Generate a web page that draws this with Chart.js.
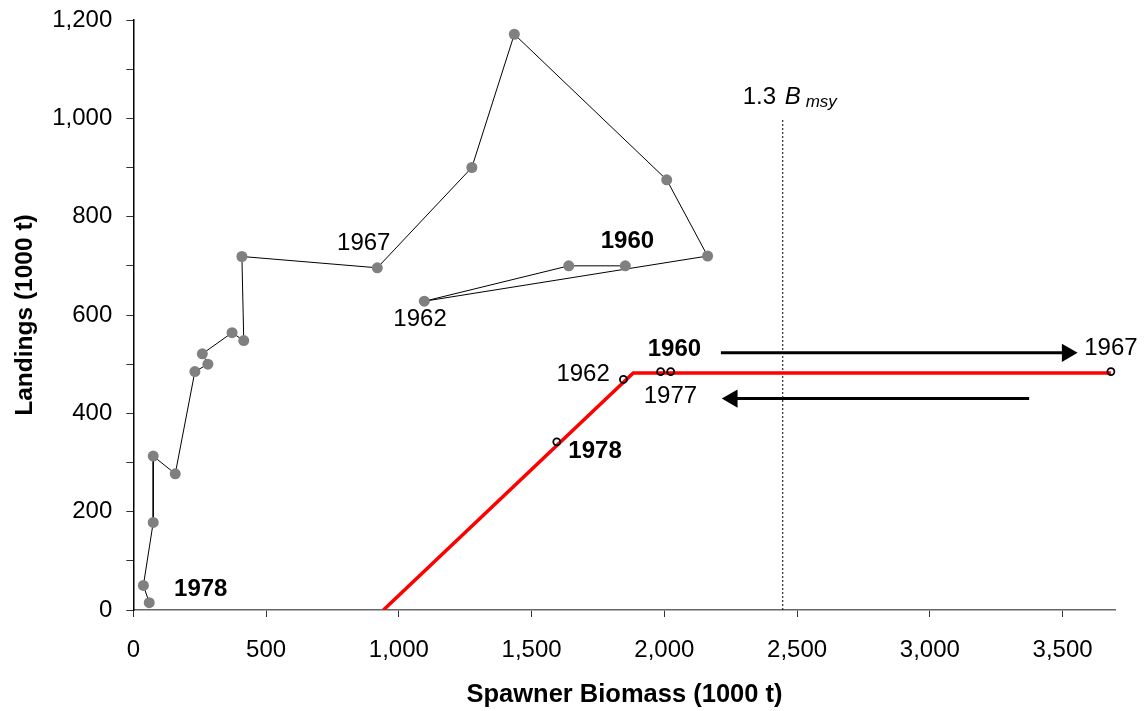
<!DOCTYPE html>
<html>
<head>
<meta charset="utf-8">
<script src="https://cdn.jsdelivr.net/npm/chart.js@4.4.1/dist/chart.umd.min.js"></script>
<style>
  html, body { margin: 0; padding: 0; background: #ffffff; }
  #wrap { width: 1147px; height: 711px; }
</style>
</head>
<body>
<div id="wrap"><canvas id="c" width="1147" height="711"></canvas></div>
<script>
// ---- Data ----
const years = [1960, 1961, 1962, 1963, 1964, 1965, 1966, 1967, 1968, 1969, 1970, 1971, 1972, 1973, 1974, 1975, 1976, 1977, 1978];
const spawnerBiomass = [1853, 1640, 1096, 2163, 2009, 1435, 1275, 919, 409, 416, 372, 260, 281, 232, 158, 75, 75, 38, 60];
const landings = [700, 700, 628, 720, 875, 1171, 900, 696, 719, 548, 564, 521, 500, 485, 277, 313, 178, 50, 15];

const hcrBiomass = [942, 1883, 3682];
const hcrLandings = [0, 482, 482];

const hcrPointYears = [1960, 1962, 1967, 1977, 1978];
const hcrPointBiomass = [1986, 1846, 3682, 2024, 1595];
const hcrPointLandings = [485, 469, 485, 485, 342];

const bmsyRef = 2446;          // 1.3 Bmsy spawner biomass
const bmsyLineTop = 1000;

const arrowOutBiomass = [2213, 3517];
const arrowOutLandings = [523, 523];
const arrowBackBiomass = [3374, 2256];
const arrowBackLandings = [430, 430];

const xTickValues = [0, 500, 1000, 1500, 2000, 2500, 3000, 3500];
const yTickValues = [0, 100, 200, 300, 400, 500, 600, 700, 800, 900, 1000, 1100, 1200];
const yLabelled = [0, 200, 400, 600, 800, 1000, 1200];

const labelTexts = ['1978', '1967', '1962', '1960', '1960', '1962', '1977', '1978', '1967'];
const labelBold  = [true, false, false, true, true, false, false, true, false];
const labelX = [254, 868, 1080, 1861, 2038, 1694, 2023, 1739, 3682];
const labelY = [41, 746, 592, 749, 531, 480, 435, 323, 533];

const FONT = "'Liberation Sans', Arial, Helvetica, sans-serif";

const pts = (xs, ys) => xs.map((x, i) => ({ x: x, y: ys[i] }));

const textPlugin = {
  id: 'annotTexts',
  afterDatasetsDraw(chart) {
    const ctx = chart.ctx;
    const xs = chart.scales.x, ys = chart.scales.y;
    ctx.save();
    ctx.fillStyle = '#000';
    ctx.textAlign = 'center';
    ctx.textBaseline = 'middle';
    labelTexts.forEach((t, i) => {
      ctx.font = (labelBold[i] ? 'bold ' : '') + '24px ' + FONT;
      ctx.fillText(t, xs.getPixelForValue(labelX[i]), ys.getPixelForValue(labelY[i]));
    });
    // 1.3 B msy label
    let px = xs.getPixelForValue(2295);
    const py = ys.getPixelForValue(1030);
    ctx.textAlign = 'left';
    ctx.textBaseline = 'alphabetic';
    ctx.font = '24px ' + FONT;
    ctx.fillText('1.3 ', px, py);
    px += ctx.measureText('1.3 ').width + 2;
    ctx.font = 'italic 24px ' + FONT;
    ctx.fillText('B', px, py);
    px += ctx.measureText('B').width + 5;
    ctx.font = 'italic 17px ' + FONT;
    ctx.fillText('msy', px, py + 3);
    ctx.restore();
  }
};

new Chart(document.getElementById('c'), {
  type: 'scatter',
  data: {
    datasets: [
      {
        label: 'HCR points',
        data: pts(hcrPointBiomass, hcrPointLandings),
        showLine: false,
        pointRadius: 3.5,
        pointBorderWidth: 1.8,
        pointBorderColor: '#000',
        pointBackgroundColor: 'rgba(255,255,255,0)',
        order: 0
      },
      {
        label: 'HCR',
        data: pts(hcrBiomass, hcrLandings),
        showLine: true,
        borderColor: '#ff0000',
        borderWidth: 3.5,
        pointRadius: 0,
        order: 1
      },
      {
        label: 'arrow out',
        data: pts(arrowOutBiomass, arrowOutLandings),
        showLine: true,
        borderColor: '#000',
        borderWidth: 3,
        pointRadius: [0, 10.5],
        pointStyle: 'triangle',
        pointRotation: 90,
        pointBackgroundColor: '#000',
        pointBorderWidth: 0,
        order: 2
      },
      {
        label: 'arrow back',
        data: pts(arrowBackBiomass, arrowBackLandings),
        showLine: true,
        borderColor: '#000',
        borderWidth: 3,
        pointRadius: [0, 10.5],
        pointStyle: 'triangle',
        pointRotation: -90,
        pointBackgroundColor: '#000',
        pointBorderWidth: 0,
        order: 2
      },
      {
        label: 'Landings vs biomass',
        data: pts(spawnerBiomass, landings),
        showLine: true,
        borderColor: '#000',
        borderWidth: 1,
        pointRadius: 5.5,
        pointBackgroundColor: '#808080',
        pointBorderWidth: 0,
        order: 3
      },
      {
        label: '1.3 Bmsy',
        data: [{ x: bmsyRef, y: 0 }, { x: bmsyRef, y: bmsyLineTop }],
        showLine: true,
        borderColor: '#000',
        borderWidth: 1,
        borderDash: [2, 2],
        pointRadius: 0,
        order: 4
      }
    ]
  },
  options: {
    responsive: false,
    animation: false,
    devicePixelRatio: 1,
    layout: { padding: { left: 0, right: 31.3, top: 20, bottom: 0 } },
    plugins: { legend: { display: false }, tooltip: { enabled: false } },
    scales: {
      x: {
        type: 'linear',
        min: 0,
        max: 3700,
        afterFit(scale) { scale.height = 101; scale.paddingLeft = 0; scale.paddingRight = 0; },
        afterBuildTicks(scale) { scale.ticks = xTickValues.map(v => ({ value: v })); },
        border: { display: true, color: '#666', width: 1.5 },
        grid: { display: true, drawOnChartArea: false, drawTicks: true, tickLength: 7, tickColor: '#333' },
        ticks: {
          autoSkip: false,
          maxRotation: 0,
          padding: 19,
          color: '#000',
          font: { family: FONT, size: 24 },
          callback: v => v.toLocaleString('en-US')
        },
        title: {
          display: true,
          text: 'Spawner Biomass (1000 t)',
          color: '#000',
          font: { family: FONT, size: 25.5, weight: 'bold' },
          padding: { top: 0, bottom: 1 }
        }
      },
      y: {
        type: 'linear',
        min: 0,
        max: 1200,
        afterFit(scale) { scale.width = 133.3; scale.paddingTop = 0; scale.paddingBottom = 0; },
        afterBuildTicks(scale) { scale.ticks = yTickValues.map(v => ({ value: v })); },
        border: { display: true, color: '#000', width: 1.5 },
        grid: { display: true, drawOnChartArea: false, drawTicks: true, tickLength: 7, tickColor: '#333' },
        ticks: {
          autoSkip: false,
          padding: 14,
          color: '#000',
          font: { family: FONT, size: 24 },
          callback: v => yLabelled.includes(v) ? v.toLocaleString('en-US') : ''
        },
        title: {
          display: true,
          text: 'Landings (1000 t)',
          color: '#000',
          font: { family: FONT, size: 24.5, weight: 'bold' },
          padding: { top: 11, bottom: 0 }
        }
      }
    }
  },
  plugins: [textPlugin]
});
</script>
</body>
</html>
